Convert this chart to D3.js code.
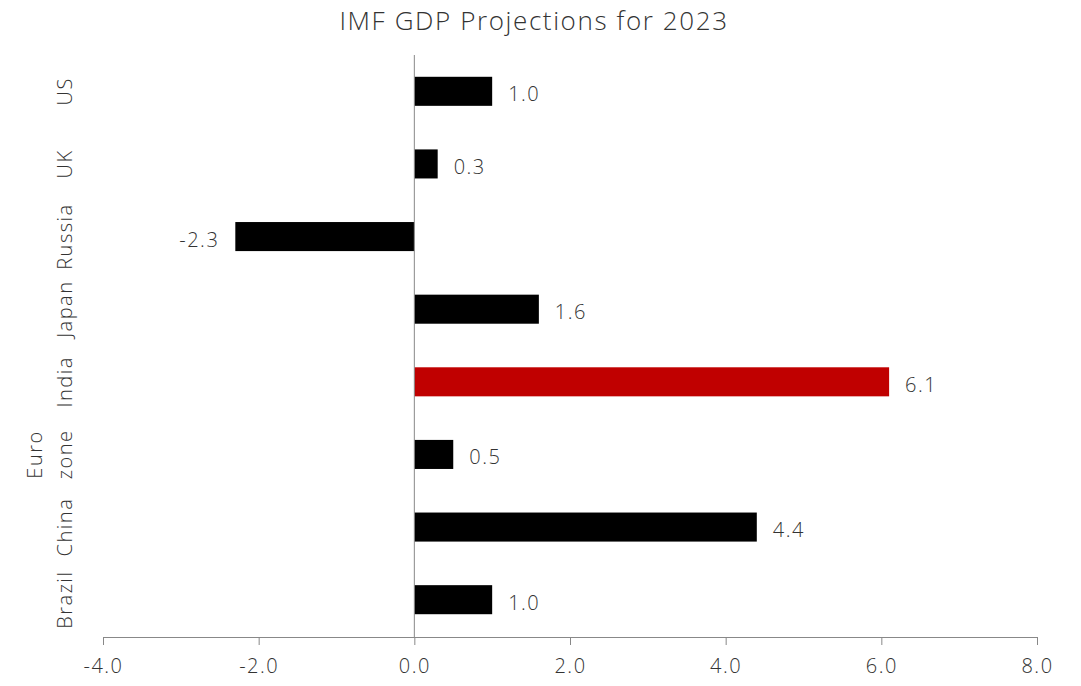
<!DOCTYPE html>
<html>
<head>
<meta charset="utf-8">
<script src="https://cdn.jsdelivr.net/npm/d3@7"></script>
<style>
  body { margin: 0; background: #fff; }
  text { font-family: "Open Sans", "Lato", sans-serif; font-weight: 300; fill: #333; letter-spacing: 1.5px; }
</style>
</head>
<body>
<div id="vis"></div>
<script>
var countries = ["US", "UK", "Russia", "Japan", "India", "Euro zone", "China", "Brazil"];
var growth = [1.0, 0.3, -2.3, 1.6, 6.1, 0.5, 4.4, 1.0];
var highlight = "India";
var xTicks = [-4, -2, 0, 2, 4, 6, 8];

var margin = {top: 55, right: 45, bottom: 50, left: 103};

var svg = d3.select("#vis").append("svg")
  .attr("width", 1081)
  .attr("height", 686);

svg.append("text")
  .attr("x", 534)
  .attr("y", 30)
  .attr("text-anchor", "middle")
  .style("font-size", "26px")
  .style("letter-spacing", "1.6px")
  .text("IMF GDP Projections for 2023");

var g = svg.append("g")
  .attr("transform", "translate(" + margin.left + "," + margin.top + ")");

var x = d3.scaleLinear().domain([-4, 8]).range([0, 934]);
var y = d3.scaleBand().domain(countries).range([0, 581]).paddingInner(0.6).paddingOuter(0.3);

var data = countries.map(function(c, i) { return {name: c, value: growth[i]}; });

g.selectAll("rect.bar")
  .data(data)
  .enter().append("rect")
  .attr("class", "bar")
  .attr("x", function(d) { return x(Math.min(0, d.value)); })
  .attr("y", function(d) { return y(d.name); })
  .attr("width", function(d) { return Math.abs(x(d.value) - x(0)); })
  .attr("height", y.bandwidth())
  .attr("fill", function(d) { return d.name == highlight ? "#c00000" : "#000"; });

// zero line
g.append("line")
  .attr("x1", x(0)).attr("x2", x(0))
  .attr("y1", 0).attr("y2", 582)
  .attr("stroke", "#888").attr("stroke-width", 1);

g.selectAll("text.val")
  .data(data)
  .enter().append("text")
  .attr("class", "val")
  .attr("x", function(d) { return d.value < 0 ? x(d.value) - 16 : x(d.value) + 16; })
  .attr("y", function(d) { return y(d.name) + y.bandwidth() / 2; })
  .attr("dy", "0.5em")
  .attr("text-anchor", function(d) { return d.value < 0 ? "end" : "start"; })
  .style("font-size", "20px")
  .text(function(d) { return d.value.toFixed(1); });

var xAxis = g.append("g")
  .attr("transform", "translate(0,582)")
  .call(d3.axisBottom(x).tickValues(xTicks)
    .tickFormat(function(d) { return d.toFixed(1); })
    .tickSize(8).tickPadding(14));
xAxis.select(".domain").attr("stroke", "#888").attr("d", "M0.5,0.5H934.5");
xAxis.selectAll(".tick line").attr("stroke", "#888");
xAxis.selectAll("text").style("font-size", "20px").attr("fill", "#333")
  .style("font-family", "'Open Sans', Lato, sans-serif").style("font-weight", 300);

// category labels, rotated
var labels = g.selectAll("g.lab")
  .data(countries)
  .enter().append("g")
  .attr("class", "lab")
  .attr("transform", function(d) { return "translate(-38," + (y(d) + y.bandwidth() / 2) + ") rotate(-90)"; });

labels.each(function(d) {
  var words = d.split(" ");
  var t = d3.select(this).append("text")
    .attr("text-anchor", "middle")
    .style("font-size", "20px");
  words.forEach(function(w, i) {
    t.append("tspan")
      .attr("x", 0)
      .attr("y", (i - (words.length - 1)) * 30)
      .attr("dy", "0.35em")
      .text(w);
  });
});
</script>
</body>
</html>
